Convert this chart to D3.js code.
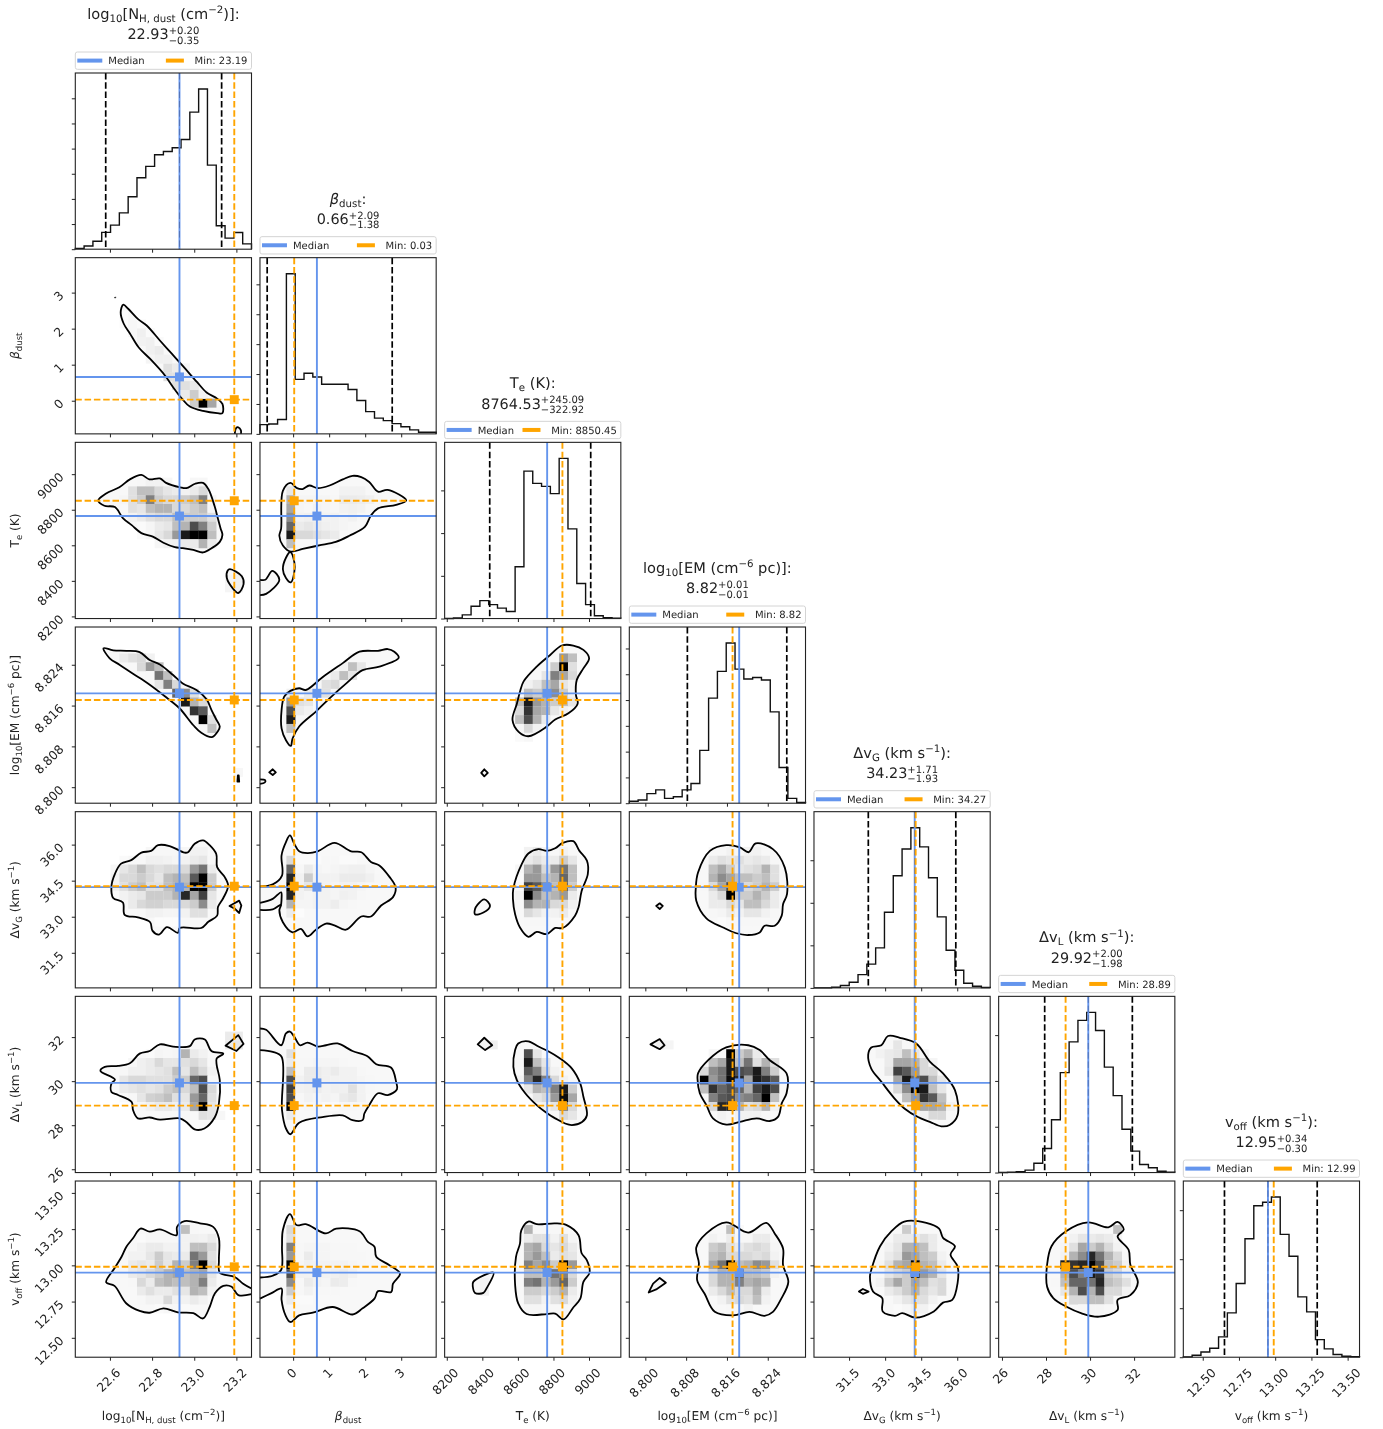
<!DOCTYPE html>
<html>
<head>
<meta charset="utf-8">
<script src="https://cdn.jsdelivr.net/npm/d3@7"></script>
<style>
html, body { margin: 0; background: #fff; }
text { font-family: "DejaVu Sans", sans-serif; fill: #222; text-rendering: geometricPrecision; }
svg { filter: blur(0.35px); }
</style>
</head>
<body>
<script>
// axis ranges, ticks and summary numbers per parameter
const ranges = [[22.4357, 23.2717], [-0.92, 3.97], [8188, 9179], [8.79686, 8.8314], [30.04, 37.37], [25.85, 33.85], [12.366, 13.582]]
const tickVals = [
    [22.6, 22.8, 23.0, 23.2], [0, 1, 2, 3], [8200, 8400, 8600, 8800, 9000],
    [8.8, 8.808, 8.816, 8.824], [31.5, 33, 34.5, 36], [26, 28, 30, 32], [12.5, 12.75, 13, 13.25, 13.5]
]
const tickFmt = [".1f", ".0f", ".0f", ".3f", ".1f", ".0f", ".2f"]
const medians = [22.93, 0.66, 8764.53, 8.8184, 34.23, 29.92, 12.95]
const minima = [23.19, 0.03, 8850.45, 8.8171, 34.27, 28.89, 12.99]
const lower = [22.58, -0.72, 8441.6, 8.80824, 32.3, 27.94, 12.65]
const upper = [23.13, 2.75, 9009.6, 8.82773, 35.94, 31.92, 13.29]
const medianText = ["22.93", "0.66", "8764.53", "8.82", "34.23", "29.92", "12.95"]
const plusText = ["+0.20", "+2.09", "+245.09", "+0.01", "+1.71", "+2.00", "+0.34"]
const minusText = ["\u22120.35", "\u22121.38", "\u2212322.92", "\u22120.01", "\u22121.93", "\u22121.98", "\u22120.30"]
const minText = ["23.19", "0.03", "8850.45", "8.82", "34.27", "28.89", "12.99"]
const names = [
    [["log"], ["10", "sub"], ["[N"], ["H, dust", "sub"], [" (cm"], ["\u22122", "sup"], [")]"]],
    [["\u03b2", "it"], ["dust", "sub"]],
    [["T"], ["e", "sub"], [" (K)"]],
    [["log"], ["10", "sub"], ["[EM (cm"], ["\u22126", "sup"], [" pc)]"]],
    [["\u0394v"], ["G", "sub"], [" (km s"], ["\u22121", "sup"], [")"]],
    [["\u0394v"], ["L", "sub"], [" (km s"], ["\u22121", "sup"], [")"]],
    [["v"], ["off", "sub"], [" (km s"], ["\u22121", "sup"], [")"]]
]

// 1D histograms, 20 bins, height relative to the peak
const hist0 = [.005, .02, .05, .105, .15, .227, .327, .446, .517, .59, .61, .633, .685, .856, 1, .525, .146, .069, .104, .033]
const hist1 = [.058, .062, .09, 1, .34, .378, .355, .31, .31, .31, .277, .208, .139, .098, .083, .064, .044, .025, .01, .01]
const hist2 = [0, .004, .023, .077, .112, .087, .065, .044, .323, .92, .844, .825, .78, 1, .56, .219, .087, .017, .006, .002]
const hist3 = [.012, .02, .06, .083, .03, .04, .083, .123, .33, .656, .823, 1, .837, .775, .785, .769, .57, .223, .03, .004]
const hist4 = [0, 0, .004, .015, .035, .083, .148, .25, .472, .7, .867, 1, .88, .688, .443, .235, .11, .029, .01, .002]
const hist5 = [0, .002, .006, .015, .058, .15, .33, .624, .816, .95, 1, .887, .658, .48, .27, .134, .05, .03, .008, .002]
const hist6 = [.002, .012, .033, .056, .127, .277, .46, .74, .946, .967, 1, .767, .63, .377, .283, .11, .052, .017, .006, .004]
const hists = [hist0, hist1, hist2, hist3, hist4, hist5, hist6]
const histTickStep = [.157, .1867, .2667, .161, .2656, .286, .306]
const medianDashed = [0, 4, 5, 6]

// 2D histograms: each row is [row from bottom, first column, darkness %...]
const grid_1_0 = [
    [3, 13, 20, 100, 35], [4, 12, 8, 20, 5], [5, 11, 12, 12, 8], [6, 10, 12, 12, 5], [7, 10, 12, 8, 3],
    [8, 8, 4, 6, 6], [9, 8, 6, 8], [10, 7, 5, 6, 2], [11, 6, 3, 6, 2], [12, 5, 1, 3, 2], [13, 5, 1]
]
const grid_2_0 = [
    [15, 7, 3, 5, 5, 3, 0, 0, 3, 3], [14, 6, 12, 25, 25, 15, 10, 8, 5, 8, 15], [13, 5, 4, 12, 20, 50, 20, 15, 15, 20, 25, 50, 3],
    [12, 6, 12, 10, 25, 30, 30, 15, 15, 20, 25, 4], [11, 6, 5, 8, 12, 15, 15, 25, 20, 20, 20, 12],
    [10, 7, 2, 4, 8, 10, 25, 30, 70, 50, 20], [9, 7, 2, 4, 10, 15, 40, 90, 100, 100, 25],
    [8, 9, 3, 5, 6, 8, 8, 30, 8], [4, 17, 4, 6], [3, 17, 4, 6]
]
const grid_2_1 = [
    [14, 3, 10], [14, 9, 5, 5, 5, 3], [13, 3, 30, 4, 4, 4, 4, 3, 8, 8, 7, 6, 3], [12, 3, 35, 4, 3, 5, 4, 3, 5, 6, 5, 3],
    [11, 3, 45, 5, 6, 6, 5, 5, 4, 5, 3], [10, 3, 60, 8, 10, 8, 6, 5, 4, 3], [9, 3, 90, 15, 15, 12, 10, 8],
    [8, 3, 25, 3, 3, 3, 2, 2], [4, 1, 3], [4, 3, 2]
]
const grid_3_0 = [
    [16, 5, 8, 12, 15, 5], [15, 7, 15, 40, 25], [14, 8, 3, 55, 25], [13, 9, 10, 50, 15], [12, 11, 60, 45, 12],
    [11, 12, 90, 30, 15], [10, 13, 80, 65], [9, 14, 100, 12], [8, 15, 25], [3, 18, 3]
]
const grid_3_1 = [
    [16, 10, 3, 3, 3], [15, 9, 5, 25, 10], [14, 8, 8, 25, 10], [13, 7, 12, 15], [12, 3, 5], [12, 5, 8, 10, 12],
    [11, 3, 40, 12, 10], [10, 3, 70, 8, 5], [9, 3, 90], [8, 3, 25]
]
const grid_3_2 = [
    [16, 13, 40, 25], [15, 12, 20, 100, 12], [14, 11, 10, 50, 35, 15], [13, 9, 5, 10, 25, 35, 10, 5],
    [12, 9, 25, 20, 30, 45, 20, 5], [11, 8, 25, 90, 40, 30, 20, 25, 10], [10, 8, 15, 80, 35, 30, 10, 5],
    [9, 8, 25, 70, 30, 8], [8, 8, 3, 15, 5], [7, 8, 2, 3]
]
const grid_4_0 = [
    [15, 8, 3, 3, 3, 3, 3, 5, 5], [14, 5, 2, 3, 3, 6, 6, 5, 4, 5, 8, 10, 3], [13, 4, 3, 10, 15, 25, 15, 12, 15, 15, 15, 40, 55, 8],
    [12, 4, 5, 15, 15, 20, 15, 10, 25, 30, 25, 65, 100, 20], [11, 4, 5, 12, 20, 25, 12, 12, 25, 30, 30, 100, 100, 20],
    [10, 4, 2, 5, 8, 10, 20, 20, 20, 30, 85, 35, 75, 10], [9, 6, 8, 15, 18, 18, 15, 15, 15, 20, 45, 8],
    [8, 7, 3, 5, 5, 4, 4, 5, 12, 12], [7, 9, 1, 1, 1]
]
const grid_4_1 = [
    [14, 3, 15, 2, 2, 2, 3, 3, 2, 2], [13, 3, 60, 3, 8, 4, 3, 4, 5, 6, 6, 4], [12, 3, 85, 5, 20, 5, 5, 5, 8, 8, 8, 6, 3],
    [11, 3, 100, 5, 10, 8, 5, 4, 5, 5, 4], [10, 3, 85, 5, 4, 5, 5, 4, 6, 5, 3], [9, 3, 30, 4, 4, 5, 5, 7, 4, 3], [8, 3, 8, 1]
]
const grid_4_2 = [
    [15, 9, 5, 8, 4, 3, 5, 3], [14, 9, 8, 12, 8, 8, 20, 10], [13, 8, 3, 30, 40, 15, 40, 55, 25],
    [12, 8, 2, 40, 40, 25, 30, 60, 25], [11, 9, 75, 65, 45, 25, 60, 20], [10, 8, 5, 100, 45, 25, 30, 40, 8],
    [9, 9, 45, 30, 30, 15, 15, 5], [8, 9, 15, 10, 5, 5, 8], [7, 9, 3, 3, 3]
]
const grid_4_3 = [
    [15, 9, 3, 3, 5, 3, 5, 5, 3], [14, 9, 8, 12, 10, 12, 8, 10, 8, 3], [13, 9, 25, 35, 20, 10, 12, 15, 30, 12],
    [12, 9, 30, 45, 35, 25, 25, 20, 25, 12], [11, 8, 3, 15, 35, 70, 20, 15, 20, 30, 20], [10, 9, 8, 15, 100, 20, 20, 30, 20, 8],
    [9, 9, 8, 8, 15, 10, 25, 25, 15, 8], [8, 9, 3, 4, 8, 5, 10, 10, 5, 3], [7, 10, 2, 3, 3, 3, 3]
]
const grid_5_0 = [
    [15, 17, 8, 8], [14, 17, 8, 10], [13, 8, 2, 4, 3, 4, 30, 8, 5], [12, 6, 3, 6, 8, 15, 10, 10, 12, 15, 10, 3],
    [11, 5, 3, 6, 6, 8, 10, 12, 25, 10, 25, 15, 5], [10, 5, 10, 15, 15, 12, 12, 12, 20, 20, 60, 70, 3],
    [9, 5, 8, 10, 12, 10, 12, 20, 25, 15, 25, 70, 15], [8, 5, 2, 3, 10, 18, 20, 25, 12, 10, 40, 60, 12],
    [7, 7, 3, 5, 8, 8, 6, 8, 35, 100, 10], [6, 12, 3, 0, 12, 10, 3]
]
const grid_5_1 = [
    [13, 3, 12], [12, 3, 8, 3, 3, 4, 4, 4, 3], [11, 3, 25, 3, 8, 8, 6, 8, 5, 5, 3], [10, 3, 70, 5, 8, 8, 6, 5, 5, 5, 4, 3],
    [9, 3, 75, 5, 6, 7, 5, 6, 6, 12, 5, 3], [8, 3, 70, 3, 5, 4, 5, 4, 8, 10, 5], [7, 3, 100, 0, 3, 3, 2, 2, 3, 3], [6, 3, 8]
]
const grid_5_2 = [
    [14, 4, 5, 6], [13, 9, 70, 10], [12, 8, 3, 90, 25, 10], [11, 9, 65, 50, 15, 5], [10, 8, 5, 50, 85, 50, 15, 5],
    [9, 9, 10, 30, 25, 50, 90, 20], [8, 10, 10, 15, 40, 95, 35], [7, 11, 5, 10, 50, 15], [6, 12, 3, 15, 10]
]
const grid_5_3 = [
    [14, 3, 6, 4], [13, 9, 3, 3, 100, 20, 30, 8], [12, 9, 25, 35, 90, 25, 55, 12, 30, 12], [11, 8, 15, 45, 55, 90, 70, 65, 90, 50, 20],
    [10, 8, 100, 40, 55, 95, 85, 35, 90, 80, 65], [9, 8, 25, 80, 60, 70, 60, 30, 75, 90, 70], [8, 9, 50, 65, 70, 45, 50, 60, 100, 25],
    [7, 9, 15, 85, 85, 30, 12, 15, 30, 5], [6, 10, 5, 3, 5, 5, 5, 3]
]
const grid_5_4 = [
    [14, 9, 10, 3], [13, 7, 5, 8, 10, 25, 10, 3], [12, 8, 8, 35, 35, 30, 15, 4], [11, 8, 10, 75, 65, 40, 15, 15],
    [10, 9, 35, 90, 60, 70, 25, 10], [9, 9, 15, 45, 100, 90, 25, 10], [8, 10, 25, 40, 80, 65, 25],
    [7, 11, 15, 35, 35, 30, 5], [6, 12, 5, 15, 15, 3], [5, 13, 2]
]
const grid_6_0 = [
    [14, 12, 25, 3], [13, 7, 2, 3, 3, 3, 3, 5, 6, 5, 8], [12, 6, 3, 5, 8, 8, 5, 5, 5, 25, 25, 15], [11, 6, 5, 5, 10, 20, 10, 8, 8, 55, 40, 12],
    [10, 6, 8, 10, 8, 20, 10, 30, 20, 50, 100, 15], [9, 5, 3, 8, 10, 15, 20, 30, 35, 25, 30, 35, 10],
    [8, 6, 3, 15, 8, 25, 30, 25, 25, 30, 50, 8], [7, 7, 8, 12, 8, 8, 12, 10, 30, 25, 5], [6, 7, 3, 5, 5, 15, 5, 5, 8, 5], [5, 9, 2, 3, 3, 2]
]
const grid_6_1 = [
    [14, 3, 15], [13, 3, 12], [12, 3, 50, 3, 4, 4, 4, 3, 3, 3], [11, 3, 40, 3, 8, 4, 4, 3, 3, 3, 3], [10, 3, 100, 4, 6, 5, 5, 5, 5, 4, 3],
    [9, 3, 70, 5, 5, 5, 5, 6, 7, 5], [8, 3, 45, 3, 8, 5, 4, 8, 7, 3], [7, 3, 20, 3, 5, 3, 3, 3], [6, 3, 8, 2, 2]
]
const grid_6_2 = [
    [14, 9, 30, 3, 3, 3, 3], [13, 9, 8, 12, 12, 5, 12, 4], [12, 9, 30, 35, 15, 10, 15, 8], [11, 9, 30, 40, 25, 8, 12, 10],
    [10, 9, 50, 35, 45, 20, 100, 40], [9, 9, 25, 25, 25, 55, 50, 15], [8, 9, 50, 55, 30, 40, 60, 20], [7, 9, 20, 20, 15, 20, 30, 8],
    [6, 9, 12, 12, 5, 12, 15, 5], [5, 9, 4, 4, 3, 3, 3], [8, 4, 5], [7, 4, 5]
]
const grid_6_3 = [
    [14, 11, 25, 2], [13, 9, 5, 3, 8, 3, 3, 8, 8, 3], [12, 9, 20, 25, 12, 8, 12, 15, 12, 4], [11, 9, 25, 30, 15, 15, 15, 12, 15, 5],
    [10, 9, 35, 55, 100, 25, 30, 45, 40, 12], [9, 9, 15, 30, 30, 60, 25, 25, 20, 5], [8, 9, 15, 30, 30, 50, 30, 35, 30],
    [7, 9, 8, 15, 25, 15, 15, 30, 8], [6, 10, 5, 12, 15, 12, 25, 5], [5, 11, 3, 3, 5]
]
const grid_6_4 = [
    [14, 10, 20], [13, 8, 3, 8, 8, 8, 12, 8, 3], [12, 8, 5, 10, 30, 30, 25, 8, 3], [11, 8, 8, 12, 40, 35, 25, 20, 5],
    [10, 7, 4, 12, 30, 35, 100, 30, 25, 8], [9, 7, 3, 10, 15, 20, 90, 40, 30, 10], [8, 7, 5, 20, 35, 20, 35, 25, 12, 15],
    [7, 8, 8, 12, 20, 30, 15, 10, 15], [6, 9, 5, 10, 12, 12, 5], [5, 9, 2, 3, 5, 5, 2]
]
const grid_6_5 = [
    [14, 13, 25], [13, 8, 5, 10, 8, 10, 8, 4], [12, 7, 4, 12, 35, 20, 30, 15, 5], [11, 7, 5, 30, 45, 85, 55, 30, 15, 3],
    [10, 7, 90, 80, 85, 100, 70, 25, 20, 5], [9, 7, 30, 70, 50, 90, 80, 20, 15, 5], [8, 6, 3, 25, 60, 60, 55, 85, 25, 20, 12, 3],
    [7, 7, 10, 30, 70, 30, 70, 15, 15, 5], [6, 8, 15, 15, 25, 25, 12], [5, 9, 3, 4, 4, 3]
]

// contour lines on the histogram grid, 0..20 on both axes, flat x,y lists
const contour_1_0 = [
    [5.45, 14.66, 6, 14.2, 7.16, 13, 8.1, 12.3, 9.6, 10.6, 10.95, 9.1, 12.3, 7.6, 13.8, 5.9, 14.9, 4.7, 16.1, 4, 16.7, 3.4, 16.7, 2.35, 16.1, 2.35, 14.5, 2.6, 13, 3.1, 12.1, 4, 11.1, 5.3, 10.2, 6.6, 8.5, 8.5, 7.2, 9.8, 6.2, 11.4, 5.5, 12.5, 5.15, 13.8],
    [18.1, 0, 18.25, .65, 18.5, .75, 18.8, .4, 18.8, 0],
    [4.45, 15.45, 4.6, 15.45, 4.55, 15.55]
]
const contour_2_0 = [
    [2.6, 13.4, 3.5, 14.2, 5, 14.9, 6.2, 15.8, 7.5, 16.3, 8.4, 15.8, 9.6, 15.9, 10.3, 15.4, 11.9, 14.9, 12.6, 14.8, 13.6, 15.3, 14.5, 15.4, 15.1, 14.7, 15.8, 12.8, 16.2, 11.3, 16.5, 10.2, 16.7, 9.5, 16.4, 8.7, 15.5, 8, 14.5, 7.5, 13.4, 7.8, 12.2, 8, 11.3, 8.1, 10, 8.6, 8.8, 9.3, 7.5, 9.7, 6.4, 10.6, 5.4, 11.4, 4.5, 12.65, 3.3, 12.8],
    [17.3, 5.45, 17.55, 5.6, 18.9, 4.8, 19.1, 3.9, 18.5, 2.9, 17.9, 3.4, 17.2, 4.6]
]
const contour_2_1 = [
    [3.45, 15.4, 4.2, 14.8, 4.85, 14.7, 5.6, 15.1, 6.55, 14.8, 7.9, 15.1, 9.4, 15.8, 10.5, 16.2, 11.5, 16.05, 12.4, 15.5, 13.4, 14.4, 14.5, 14.6, 16.6, 13.4, 15.45, 12.9, 13.4, 12.5, 12.6, 11.7, 11.9, 10.4, 10.15, 9.4, 8.6, 8.7, 6.7, 8.3, 4.85, 7.9, 3.5, 7.6, 2.6, 8.3, 2.2, 9.4, 2.4, 10.2, 2.6, 14.5],
    [3.45, 7.55, 3.9, 6.4, 3.9, 5.3, 3.5, 4.1, 2.95, 4.6, 2.6, 5.6, 2.95, 6.9],
    [0, 4.4, .6, 4.4, 1.4, 5.4, 2.2, 4.4, .7, 2.8, 0, 2.65]
]
const contour_3_0 = [
    [3.2, 17.6, 4.3, 17.35, 5.8, 17.3, 7.3, 17.15, 8.45, 16.25, 9.6, 15.75, 11.1, 14.55, 12.2, 13.6, 13.75, 12.85, 14.9, 11.8, 15.45, 10.6, 16, 9.5, 16.4, 8.7, 16.2, 8.2, 15.5, 7.5, 14.3, 8, 13.4, 8.85, 11.85, 10.75, 10.35, 12, 8.25, 13.6, 6.55, 14.7, 5.05, 15.7, 3.9, 16.45],
    [18.4, 2.45, 18.6, 2.45, 18.55, 3.15, 18.45, 3.15]
]
const contour_3_1 = [
    [3.45, 12.75, 4.45, 13.05, 5.2, 12.85, 7.1, 14.3, 9.4, 15.9, 11.3, 17.2, 13.4, 17.3, 14.5, 17.5, 15.25, 17.2, 15.75, 16.5, 13.55, 15.5, 11.65, 15.1, 9.8, 13.6, 7.9, 11.9, 6.35, 10.4, 4.45, 8.7, 3.7, 7.35, 3.5, 6.5, 2.95, 7.15, 2.45, 8.5, 2.45, 10.55, 2.75, 12.1],
    [1.45, 3.85, 1.8, 3.5, 1.45, 3.2, 1.05, 3.5],
    [0, 2.7, .6, 2.6, .55, 2.35, 0, 2.2]
]
const contour_3_2 = [
    [13.3, 17.9, 14.6, 17.9, 15.75, 17.4, 16.4, 16.45, 15.75, 15.3, 15, 14, 14.9, 12.3, 15.1, 11.3, 14.05, 10.2, 12.55, 9.5, 11.6, 8.7, 9.5, 7.6, 8.4, 8.1, 7.7, 9.45, 8.2, 11.3, 8.55, 12.65, 8.95, 13.8, 10.45, 15.5, 11.95, 16.8],
    [4.5, 3.85, 4.9, 3.45, 4.5, 3.05, 4.15, 3.45]
]
const contour_4_0 = [
    [4.1, 11.5, 4.5, 12.95, 5.2, 14.1, 6.35, 14.5, 7.5, 15.35, 8.6, 15.55, 9.4, 16.2, 10.7, 16.1, 12.4, 15.35, 12.8, 15.4, 13.55, 16.35, 14.5, 16.75, 15.25, 16.2, 16, 15.2, 16.1, 13.7, 16.95, 12.6, 17.35, 11.6, 16.8, 10.2, 16.2, 9.2, 16.1, 8.2, 15.1, 7.5, 14.3, 6.8, 11.85, 6.8, 11.65, 6.25, 10.4, 6.9, 9.5, 6.05, 8.75, 6.5, 8.5, 7.45, 7.1, 8, 5.6, 8.3, 5.4, 9.7, 4.3, 10.2],
    [17.5, 9.3, 18.6, 9.9, 18.85, 9.35, 18.6, 8.5, 18.1, 9]
]
const contour_4_1 = [
    [0, 11.5, 1.45, 11.75, 2.5, 12.75, 2.45, 15.05, 2.95, 16.55, 3.4, 17.3, 3.9, 16.35, 4.45, 15.5, 5.4, 15.3, 6.55, 15.5, 8.45, 16.45, 10.35, 15.5, 11.5, 15.4, 12.6, 14.3, 13.55, 13.9, 14.7, 12.6, 15.4, 11.4, 15.1, 10.3, 13.75, 9.35, 12.6, 8.1, 11.5, 8.1, 9.75, 6.6, 8.45, 7.1, 7.5, 7.3, 6.35, 6.6, 5.4, 5.85, 4.65, 6.7, 3.7, 6.3, 2.6, 7.45, 2.2, 8.8, 2.4, 9.45, 1.45, 8.9, 0, 8.85],
    [0, 9.65, 1.45, 10.1, 2.4, 10.85, 2.45, 10.1, 2.4, 9.45]
]
const contour_4_2 = [
    [7.8, 11.3, 8.75, 14.05, 9.5, 15.25, 10.65, 15.75, 11.6, 15.55, 12.55, 15.85, 13.4, 16.45, 14.6, 16.65, 15.3, 15.55, 16.15, 14.45, 16.25, 12.9, 15.55, 11, 15.2, 9.15, 14.8, 8.2, 13.4, 6.8, 12.55, 6.8, 11.6, 6.1, 10.45, 6.35, 9.5, 5.8, 8.55, 6.85, 8, 8.35, 7.75, 10.1],
    [3.7, 9.4, 4.5, 10.05, 5.15, 9.3, 4.4, 8.55, 3.45, 8.35, 3.45, 8.95]
]
const contour_4_3 = [
    [7.55, 11.4, 7.8, 13.1, 9.15, 15.55, 11, 16.2, 12.55, 15.95, 13.55, 15.4, 14.35, 16.4, 16.3, 15.75, 17.65, 13.65, 17.9, 10.65, 17.45, 9.5, 17.3, 8.2, 16.5, 7.05, 15.35, 7.05, 14.8, 6.3, 13.5, 6, 12.15, 6.2, 10.65, 6.85, 8.75, 7.9, 7.6, 9.9],
    [3.45, 9.6, 3.8, 9.3, 3.45, 8.95, 3.05, 9.3]
]
const contour_5_0 = [
    [2.85, 11.55, 3.35, 12, 4.85, 12.1, 6.2, 12.4, 7.3, 13.5, 8.45, 13.8, 9.6, 14.55, 11.1, 14.3, 13, 14.35, 13.55, 15.1, 14.7, 15.1, 15.45, 13.8, 16.8, 13.5, 16.05, 12.95, 16.05, 12.2, 16.4, 10.5, 16.3, 7.85, 15.85, 6.3, 14.65, 5, 13.55, 4.9, 12.6, 5.75, 11.85, 6.15, 9.6, 6, 8.45, 6.25, 7.1, 6.15, 6.55, 7.1, 6.4, 8, 4.85, 8.8, 4.1, 9.15, 4.1, 10.1, 4.5, 10.55],
    [17.05, 14.4, 18.5, 15.6, 19.1, 14.6, 18.3, 13.8]
]
const contour_5_1 = [
    [0, 16.35, .7, 16.2, 2.4, 14.45, 2.95, 15.8, 3.4, 16, 3.9, 15.4, 4.55, 14.45, 5.4, 14.75, 6.55, 14.3, 7.5, 14.45, 8.8, 14.65, 10.5, 13.8, 12.2, 13.2, 13.2, 12.3, 14.9, 11.9, 15.45, 10.3, 15.55, 9.45, 14.5, 8.8, 13.4, 9, 12.4, 7.65, 11.85, 6.7, 11.65, 5.95, 10.5, 5.95, 9.4, 6.5, 7.1, 6.3, 4.45, 5.65, 3.45, 4.35, 2.95, 5, 2.5, 7.1, 2.45, 13.15, 1.45, 13.7, 0, 13.9]
]
const contour_5_2 = [
    [8.35, 14.65, 9.5, 14.9, 10.65, 14.3, 11.6, 13.85, 13.1, 12.95, 14.45, 11.8, 15.4, 10.1, 15.75, 8.6, 16.15, 6.5, 15.6, 5.75, 14.25, 5.4, 12.55, 6.15, 11.4, 6.9, 10.45, 7.65, 9.15, 9, 8.2, 10.5, 7.8, 12, 8, 13.9],
    [4.5, 15.3, 5.4, 14.45, 4.6, 13.9, 3.75, 14.55]
]
const contour_5_3 = [
    [7.8, 11.25, 8.95, 12.75, 11, 14.2, 13.5, 14.45, 14.8, 13.9, 15.95, 12.75, 17.85, 11.25, 17.85, 9, 17.3, 7.85, 16.9, 6.35, 15.95, 5.85, 14.45, 6.15, 12.55, 5.75, 11, 5.45, 9.5, 6.15, 8.75, 7.65, 8, 9, 7.75, 10.5],
    [2.4, 14.55, 3.45, 15.15, 4, 14.45, 3.45, 14]
]
const contour_5_4 = [
    [6.15, 13.35, 6.5, 14.2, 7.65, 14.45, 8.4, 15.5, 9.75, 15.3, 11.6, 14.65, 13.15, 12.6, 14.65, 11.25, 16, 9.35, 16.3, 6.5, 15.4, 5.4, 14.45, 5.25, 13.15, 5.75, 11.8, 6.3, 10.3, 7.25, 9.15, 8.4, 7.65, 10.3, 6.5, 11.8]
]
const contour_6_0 = [
    [20, 7.8, 19.05, 8.35, 18.1, 9.1, 16.4, 9.6, 16.3, 11, 16.3, 13.5, 15.65, 14.8, 14.15, 15.2, 12.4, 15.45, 11.55, 14.8, 11.5, 13.85, 9.6, 14.5, 8.45, 14.25, 7.4, 14.6, 6.55, 13.5, 5.8, 12.55, 5.25, 11.4, 4.45, 10.1, 3.5, 8.5, 4.45, 8.1, 5.8, 6.1, 7.3, 5.25, 8.45, 5.05, 10, 5.55, 11.65, 5.1, 13.4, 5, 14.5, 4.4, 15.25, 5.7, 15.85, 7.25, 16.8, 8.1, 17.75, 8, 18.5, 7.05, 20, 7.15]
]
const contour_6_1 = [
    [0, 9.05, 1.45, 9.25, 2.4, 9.9, 2.5, 12.55, 2.6, 14.45, 3.4, 16.25, 4.15, 15, 5.2, 15.1, 7.5, 14.05, 8.65, 14.6, 11.3, 14.3, 12.25, 13.1, 13, 12.55, 13.2, 11.4, 14.7, 10.45, 15.9, 9.5, 15.1, 8.35, 14.9, 7.4, 13.4, 7.5, 13, 6.65, 11.65, 5.55, 10.5, 4.85, 8.25, 5.7, 6, 5.05, 4.45, 4.75, 3.45, 4, 2.9, 4.75, 2.45, 6.5, 2.45, 7.8, 1.25, 7.25, 0, 6.65]
]
const contour_6_2 = [
    [8.7, 14.4, 9.5, 15.4, 10.45, 15.1, 12.55, 15.2, 13.85, 15, 15.2, 13.85, 15.55, 11.8, 16.15, 11, 16.45, 9.6, 15.75, 8.55, 15.4, 6.65, 14.6, 5.65, 13.5, 4.3, 12.55, 4.95, 11.6, 4.9, 9.3, 4.9, 8.35, 6.1, 8, 8.2, 8.1, 11.4, 8.55, 12.9],
    [3.25, 8.55, 5.55, 9.6, 4.75, 7.8, 4.4, 7.3, 3.45, 7.3, 3.2, 8]
]
const contour_6_3 = [
    [7.6, 12.45, 8.75, 14.05, 11, 15.3, 13.5, 14.15, 15.55, 15.25, 16.5, 14.05, 17.45, 12.35, 17.45, 10.45, 18.05, 8.55, 17.25, 6.65, 16.3, 5.15, 15.35, 4.7, 13.65, 5.15, 11.8, 4.75, 9.7, 5.15, 8.55, 7.2, 7.7, 8.75, 7.9, 10.65],
    [3.45, 9, 4.15, 8.45, 3.05, 7.7, 2.2, 7.35, 2.7, 8.35]
]
const contour_6_4 = [
    [6.5, 9.9, 7.5, 12.6, 8.8, 14.3, 10.25, 15.4, 12.75, 15.25, 14.2, 14.6, 14.65, 13.55, 16, 12.6, 15.5, 11.65, 16.3, 10.3, 16.3, 8.4, 15.7, 6.5, 14.65, 6.2, 13.6, 5.2, 11.5, 4.5, 10, 5, 9.2, 4.7, 7.8, 5.2, 7.75, 6.7, 6.7, 7.45, 6.35, 9.15],
    [5.55, 7.75, 6.2, 7.45, 5.55, 7.2, 5.1, 7.45]
]
const contour_6_5 = [
    [5.5, 10.5, 6, 12.6, 7.65, 14.3, 10.15, 15.3, 12.45, 14.75, 13.5, 15.35, 14.2, 14.5, 13.5, 13.7, 14.75, 12.2, 14.95, 10.5, 15.8, 8.5, 14.95, 7.05, 13.5, 6.5, 13.5, 5.35, 11.4, 4.6, 9.35, 5, 7.65, 5.75, 6.2, 6.7, 5.5, 8]
]

const grids = {
    "1,0": grid_1_0, "2,0": grid_2_0, "2,1": grid_2_1, "3,0": grid_3_0, "3,1": grid_3_1, "3,2": grid_3_2,
    "4,0": grid_4_0, "4,1": grid_4_1, "4,2": grid_4_2, "4,3": grid_4_3, "5,0": grid_5_0, "5,1": grid_5_1,
    "5,2": grid_5_2, "5,3": grid_5_3, "5,4": grid_5_4, "6,0": grid_6_0, "6,1": grid_6_1, "6,2": grid_6_2,
    "6,3": grid_6_3, "6,4": grid_6_4, "6,5": grid_6_5
}
const contours = {
    "1,0": contour_1_0, "2,0": contour_2_0, "2,1": contour_2_1, "3,0": contour_3_0, "3,1": contour_3_1, "3,2": contour_3_2,
    "4,0": contour_4_0, "4,1": contour_4_1, "4,2": contour_4_2, "4,3": contour_4_3, "5,0": contour_5_0, "5,1": contour_5_1,
    "5,2": contour_5_2, "5,3": contour_5_3, "5,4": contour_5_4, "6,0": contour_6_0, "6,1": contour_6_1, "6,2": contour_6_2,
    "6,3": contour_6_3, "6,4": contour_6_4, "6,5": contour_6_5
}

const width = 1383
const height = 1429
const n = 7
const bins = 20
const left0 = 75.3
const top0 = 73
const step = 184.67
const size = 176.2
const blue = "#6495ed"
const orange = "#ffa500"
const tickFont = 12.2

const svg = d3.select("body").append("svg").attr("width", width).attr("height", height)
    .style("display", "block")

const darkness = d3.scaleLinear().domain([0, 100]).range(["#ffffff", "#000000"])
const xScales = d3.range(n).map(i => d3.scaleLinear().domain(ranges[i]).range([left0 + i * step, left0 + i * step + size]))
const yScales = d3.range(n).map(i => d3.scaleLinear().domain(ranges[i]).range([top0 + i * step + size, top0 + i * step]))

// writes mathtext-like parts (sub, sup, italic) as tspans
function rich(text, parts, fontSize) {
    let shift = 0
    parts.forEach(p => {
        const kind = p[1]
        const next = kind === "sub" ? fontSize * 0.21 : kind === "sup" ? -fontSize * 0.4 : 0
        text.append("tspan")
            .attr("dy", next - shift)
            .attr("font-size", kind === "sub" || kind === "sup" ? fontSize * 0.7 : fontSize)
            .attr("font-style", kind === "it" ? "italic" : null)
            .text(p[0])
        shift = next
    })
}

function drawTitle(i) {
    const cx = left0 + i * step + size / 2
    const top = top0 + i * step
    const g = svg.append("g")
    const t = g.append("text").attr("x", cx).attr("y", top - 54).attr("text-anchor", "middle").attr("font-size", 14.6)
    rich(t, names[i].concat([[":"]]), 14.6)
    const main = g.append("text").attr("y", top - 33.7).attr("font-size", 14.4).text(medianText[i])
    const sup = g.append("text").attr("y", top - 39).attr("font-size", 10).text(plusText[i])
    const sub = g.append("text").attr("y", top - 29.4).attr("font-size", 10).text(minusText[i])
    const w0 = main.node().getComputedTextLength()
    const w1 = Math.max(sup.node().getComputedTextLength(), sub.node().getComputedTextLength())
    const x0 = cx - (w0 + w1) / 2
    main.attr("x", x0)
    sup.attr("x", x0 + w0)
    sub.attr("x", x0 + w0)
}

function drawLegend(i) {
    const left = left0 + i * step
    const top = top0 + i * step
    const g = svg.append("g").attr("transform", `translate(${left},${top - 21})`)
    g.append("rect").attr("width", size).attr("height", 17.3).attr("rx", 2)
        .attr("fill", "#fff").attr("stroke", "#d4d4d4").attr("stroke-width", 1)
    g.append("line").attr("x1", 2).attr("x2", 27).attr("y1", 8.6).attr("y2", 8.6)
        .attr("stroke", blue).attr("stroke-width", 4)
    g.append("text").attr("x", 33).attr("y", 12.2).attr("font-size", 10).text("Median")
    const minLabel = g.append("text").attr("x", size - 4).attr("y", 12.2).attr("font-size", 10)
        .attr("text-anchor", "end").text("Min: " + minText[i])
    const xStart = size - 4 - minLabel.node().getComputedTextLength() - 28.7
    g.append("line").attr("x1", xStart).attr("x2", xStart + 18).attr("y1", 8.6).attr("y2", 8.6)
        .attr("stroke", orange).attr("stroke-width", 4)
}

function drawAxes(g, r, c, x, y, yTicks) {
    const bottom = top0 + r * step + size
    const left = left0 + c * step
    const ax = g.append("g").attr("transform", `translate(0,${bottom})`)
        .call(d3.axisBottom(x).tickValues(tickVals[c]).tickSize(3.5).tickFormat(""))
    const ay = g.append("g").attr("transform", `translate(${left},0)`)
        .call(d3.axisLeft(y).tickValues(yTicks).tickSize(3.5).tickFormat(""))
    ax.select(".domain").remove()
    ay.select(".domain").remove()
    g.selectAll(".tick line").attr("stroke", "#222").attr("stroke-width", 1)
    g.append("rect").attr("x", left).attr("y", top0 + r * step).attr("width", size).attr("height", size)
        .attr("fill", "none").attr("stroke", "#222").attr("stroke-width", 1.1)

    const labels = g.append("g").attr("font-size", tickFont)
    if (r === n - 1) {
        tickVals[c].forEach(v => {
            const t = labels.append("text").attr("text-anchor", "middle").attr("dy", "0.36em")
                .text(d3.format(tickFmt[c])(v))
            const half = (t.node().getComputedTextLength() + tickFont * 0.75) * 0.707 / 2
            t.attr("transform", `translate(${x(v) - 1.5},${bottom + 10 + half}) rotate(-45)`)
        })
    }
    if (c === 0 && r > 0) {
        // the text end sits at the tick, as in the rotated matplotlib labels
        tickVals[r].forEach(v => {
            labels.append("text").attr("text-anchor", "end").attr("dy", "0.36em")
                .attr("transform", `translate(${left - 14},${y(v) + 0.5}) rotate(-45)`)
                .text(d3.format(tickFmt[r])(v))
        })
    }
}

function drawDiagonal(i) {
    const x = xScales[i]
    const yTop = top0 + i * step
    const y = d3.scaleLinear().domain([0, 1.1]).range([yTop + size, yTop])
    const binX = d3.scaleLinear().domain([0, bins]).range(x.range())
    const g = svg.append("g")
    const pts = [[0, 0]].concat(hists[i].map((h, k) => [k, h]), [[bins, hists[i][bins - 1]], [bins, 0]])
    g.append("path").datum(pts)
        .attr("d", d3.line().x(d => binX(d[0])).y(d => y(d[1])).curve(d3.curveStepAfter))
        .attr("fill", "none").attr("stroke", "#111").attr("stroke-width", 1.4)
    ;[lower[i], upper[i]].forEach(v => {
        g.append("line").attr("x1", x(v)).attr("x2", x(v)).attr("y1", yTop).attr("y2", yTop + size)
            .attr("stroke", "#000").attr("stroke-width", 1.7).attr("stroke-dasharray", "6.5,2.8")
    })
    g.append("line").attr("x1", x(medians[i])).attr("x2", x(medians[i])).attr("y1", yTop).attr("y2", yTop + size)
        .attr("stroke", blue).attr("stroke-width", 1.9)
    if (medianDashed.includes(i)) {
        g.append("line").attr("x1", x(medians[i])).attr("x2", x(medians[i])).attr("y1", yTop).attr("y2", yTop + size)
            .attr("stroke", "#5474b8").attr("stroke-width", 1).attr("stroke-dasharray", "6.5,2.8")
    }
    g.append("line").attr("x1", x(minima[i])).attr("x2", x(minima[i])).attr("y1", yTop).attr("y2", yTop + size)
        .attr("stroke", orange).attr("stroke-width", 1.9).attr("stroke-dasharray", "6.5,2.8")
    const yTicks = d3.range(0, 1.05, histTickStep[i])
    drawAxes(g, i, i, x, y, yTicks)
}

function drawPair(r, c) {
    const x = xScales[c]
    const y = yScales[r]
    const binX = d3.scaleLinear().domain([0, bins]).range(x.range())
    const binY = d3.scaleLinear().domain([0, bins]).range(y.range())
    const g = svg.append("g")
    const key = r + "," + c

    const polys = contours[key].map(flat => d3.range(0, flat.length, 2).map(k => [flat[k], flat[k + 1]]))
    const isOpen = p => p[0][0] === 0 || p[0][0] === bins || p[0][1] === 0
    const shape = p => {
        const curve = isOpen(p) ? d3.curveCatmullRom : p.length <= 5 ? d3.curveLinearClosed : d3.curveCatmullRomClosed
        return d3.line().x(d => binX(d[0])).y(d => binY(d[1])).curve(curve)(p)
    }
    polys.forEach(p => {
        g.append("path").attr("d", shape(p)).attr("fill", "#f8f8f8").attr("stroke", "none")
    })
    grids[key].forEach(row => {
        row.slice(2).forEach((v, k) => {
            if (v === 0) return
            const col = row[1] + k
            g.append("rect").attr("x", binX(col)).attr("y", binY(row[0] + 1))
                .attr("width", binX(col + 1) - binX(col) + 0.2).attr("height", binY(row[0]) - binY(row[0] + 1) + 0.2)
                .attr("fill", darkness(v))
        })
    })
    polys.forEach(p => {
        g.append("path").attr("d", shape(p))
            .attr("fill", "none").attr("stroke", "#000").attr("stroke-linejoin", "round")
            .attr("stroke-width", p.length <= 3 ? 0.8 : 1.8)
    })

    const box = { x1: x.range()[0], x2: x.range()[1], y1: y.range()[1], y2: y.range()[0] }
    g.append("line").attr("x1", x(medians[c])).attr("x2", x(medians[c])).attr("y1", box.y1).attr("y2", box.y2)
        .attr("stroke", blue).attr("stroke-width", 1.9)
    g.append("line").attr("x1", box.x1).attr("x2", box.x2).attr("y1", y(medians[r])).attr("y2", y(medians[r]))
        .attr("stroke", blue).attr("stroke-width", 1.9)
    g.append("line").attr("x1", x(minima[c])).attr("x2", x(minima[c])).attr("y1", box.y1).attr("y2", box.y2)
        .attr("stroke", orange).attr("stroke-width", 1.9).attr("stroke-dasharray", "6.5,2.8")
    g.append("line").attr("x1", box.x1).attr("x2", box.x2).attr("y1", y(minima[r])).attr("y2", y(minima[r]))
        .attr("stroke", orange).attr("stroke-width", 1.9).attr("stroke-dasharray", "6.5,2.8")
    const square = d3.symbol().type(d3.symbolSquare).size(80)
    g.append("path").attr("d", square()).attr("fill", blue)
        .attr("transform", `translate(${x(medians[c])},${y(medians[r])})`)
    g.append("path").attr("d", square()).attr("fill", orange)
        .attr("transform", `translate(${x(minima[c])},${y(minima[r])})`)

    drawAxes(g, r, c, x, y, tickVals[r])
}

d3.range(n).forEach(r => {
    d3.range(r).forEach(c => drawPair(r, c))
    drawDiagonal(r)
    drawTitle(r)
    drawLegend(r)
})

// axis labels along the bottom and the left
d3.range(n).forEach(i => {
    const xl = svg.append("text").attr("x", left0 + i * step + size / 2).attr("y", 1420)
        .attr("text-anchor", "middle").attr("font-size", 12.2)
    rich(xl, names[i], 12.2)
    if (i > 0) {
        const cy = top0 + i * step + size / 2
        const yl = svg.append("text").attr("text-anchor", "middle").attr("font-size", 12.2)
            .attr("transform", `translate(19,${cy}) rotate(-90)`)
        rich(yl, names[i], 12.2)
    }
})
</script>
</body>
</html>
